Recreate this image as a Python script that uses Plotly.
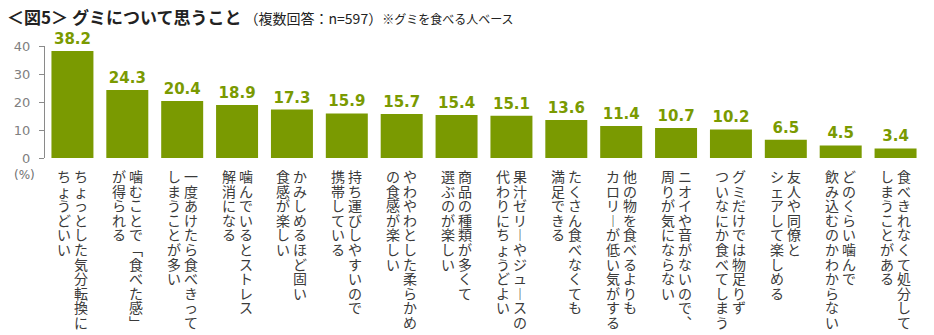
import plotly.graph_objects as go

# ---- data ----
label_right = [
    "ちょっとした気分転換に", "噛むことで「食べた感」", "一度あけたら食べきって", "噛んでいるとストレス",
    "かみしめるほど固い", "持ち運びしやすいので", "やわやわとした柔らかめ", "商品の種類が多くて",
    "果汁ゼリーやジュースの", "たくさん食べなくても", "他の物を食べるよりも", "ニオイや音がないので、",
    "グミだけでは物足りず", "友人や同僚と", "どのくらい噛んで", "食べきれなくて処分して",
]
label_left = [
    "ちょうどいい", "が得られる", "しまうことが多い", "解消になる",
    "食感が楽しい", "携帯している", "の食感が楽しい", "選ぶのが楽しい",
    "代わりにちょうどよい", "満足できる", "カロリーが低い気がする", "周りが気にならない",
    "ついなにか食べてしまう", "シェアして楽しめる", "飲み込むのかわからない", "しまうことがある",
]
values = [38.2, 24.3, 20.4, 18.9, 17.3, 15.9, 15.7, 15.4, 15.1, 13.6, 11.4, 10.7, 10.2, 6.5, 4.5, 3.4]
y_ticks = [0, 10, 20, 30, 40]

categories = [r + l for r, l in zip(label_right, label_left)]

GREEN = "rgb(122,154,1)"
JP = "Noto Sans CJK JP"
NUM = "DejaVu Sans"

fig = go.Figure(go.Bar(
    x=categories, y=values,
    marker=dict(color=GREEN, line=dict(width=0)),
    texttemplate="<b>%{y:.1f}</b>", textposition="outside",
    textfont=dict(family=NUM, size=15, color=GREEN),
    cliponaxis=False, hoverinfo="skip",
))

# vertical presentation forms for characters that rotate in vertical writing
VERT = {"「": "\ufe41", "」": "\ufe42", "ー": "\ufe31", "、": "\ufe11"}
STEP = 14.6          # character pitch down a column
BASE = STEP / 1.3    # plotly line spacing is 1.3em of the base font
GLYPH = 14


def vertical(col):
    return "<br>".join(f"<span style='font-size:{GLYPH}px'>{VERT.get(c, c)}</span>" for c in col)


anns = []
for cat, r, l in zip(categories, label_right, label_left):
    for col, xs in ((r, 8.5), (l, -8.5)):
        anns.append(dict(
            x=cat, y=0, xref="x", yref="y", text=vertical(col), showarrow=False,
            xanchor="center", yanchor="top", align="center",
            xshift=xs, yshift=-6,
            font=dict(family=JP, size=BASE, color="#3a3a3a"),
        ))

anns.append(dict(x=0, y=0, xref="paper", yref="paper", text="(%)", showarrow=False,
                 xanchor="right", yanchor="middle", xshift=-8, yshift=-17,
                 font=dict(family=NUM, size=12, color="#707070")))

anns.append(dict(
    x=0, y=1, xref="paper", yref="paper", xanchor="left", yanchor="middle", showarrow=False,
    xshift=-40, yshift=30,
    text="<b>＜図5＞ グミについて思うこと</b>"
         "<span style='font-size:14px'> （複数回答：n=597）</span>"
         "<span style='font-size:12px'>※グミを食べる人ベース</span>",
    font=dict(family=JP, size=17, color="#222222"),
))

fig.update_layout(
    width=934, height=335,
    margin=dict(l=45, r=11, t=46, b=177),
    paper_bgcolor="white", plot_bgcolor="white",
    bargap=0.235, showlegend=False,
    annotations=anns,
    xaxis=dict(showticklabels=False, showline=False, showgrid=False, zeroline=False, ticks=""),
    yaxis=dict(range=[0, 40], tickvals=y_ticks, showline=True, linecolor="#8a8a8a", linewidth=1,
               ticks="outside", ticklen=5, tickcolor="#8a8a8a", showgrid=False, zeroline=False,
               tickfont=dict(family=NUM, size=13, color="#808080"), ticklabelstandoff=6),
)

fig.write_html("out.html")
